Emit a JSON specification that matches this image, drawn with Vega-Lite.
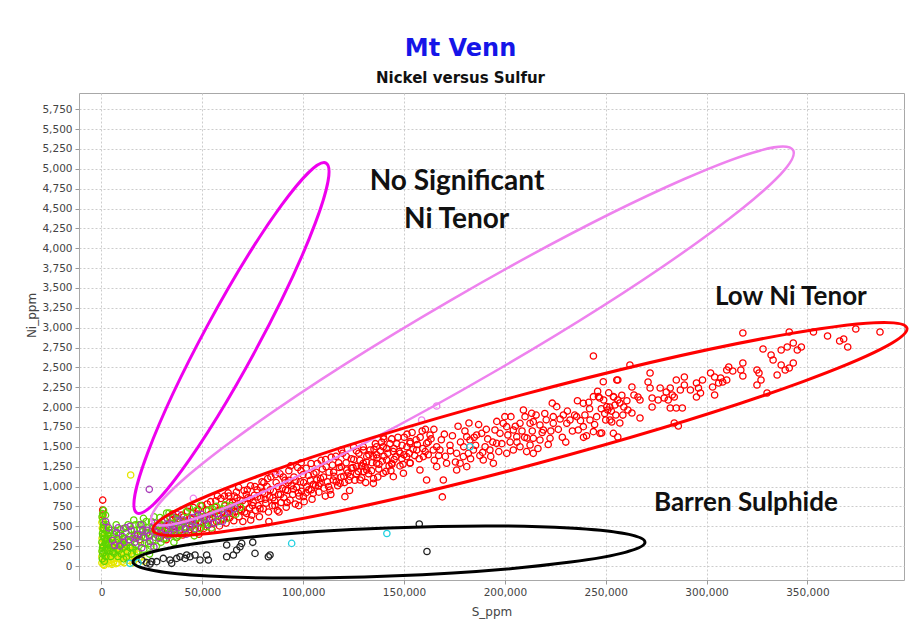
{
"$schema": "https://vega.github.io/schema/vega-lite/v6.json",
"width": 825, "height": 487,
"autosize": {"type": "none"},
"padding": {"left": 79, "top": 93, "right": 18, "bottom": 46},
"background": "white",
"title": {"text": "Mt Venn", "subtitle": "Nickel versus Sulfur", "anchor": "middle", "dx": -31, "offset": 7,
  "font": "DejaVu Sans", "fontSize": 24, "fontWeight": "bold", "color": "#1515e8",
  "subtitleFont": "DejaVu Sans", "subtitleFontSize": 15, "subtitleFontWeight": "bold", "subtitleColor": "#111111", "subtitlePadding": 10},
"datasets": {
"zones": [
 {"zone": "ns_steep", "S": 64450, "Ni": 2870},
 {"zone": "ns_wide", "S": 183940, "Ni": 2895},
 {"zone": "low", "S": 212440, "Ni": 1724},
 {"zone": "barren", "S": 142540, "Ni": 176}
],
"notes": [
 {"zone": "ns", "label": "No Significant", "S": 176250, "Ni": 4733},
 {"zone": "ns", "label": "Ni Tenor", "S": 176100, "Ni": 4255},
 {"zone": "low", "label": "Low Ni Tenor", "S": 341800, "Ni": 3285},
 {"zone": "barren", "label": "Barren Sulphide", "S": 319500, "Ni": 692}
],
"pts": [
{"S":27400,"Ni":430,"g":"red"},{"S":28900,"Ni":360,"g":"red"},{"S":29800,"Ni":505,"g":"red"},{"S":30600,"Ni":415,"g":"red"},{"S":31200,"Ni":575,"g":"red"},{"S":32100,"Ni":330,"g":"red"},{"S":32700,"Ni":470,"g":"red"},{"S":33800,"Ni":540,"g":"red"},{"S":34500,"Ni":395,"g":"red"},{"S":35300,"Ni":654,"g":"red"},{"S":35900,"Ni":455,"g":"red"},{"S":36800,"Ni":610,"g":"red"},{"S":37400,"Ni":360,"g":"red"},{"S":38100,"Ni":520,"g":"red"},{"S":38900,"Ni":445,"g":"red"},{"S":39700,"Ni":640,"g":"red"},{"S":40300,"Ni":390,"g":"red"},{"S":41200,"Ni":560,"g":"red"},{"S":41900,"Ni":470,"g":"red"},{"S":42600,"Ni":690,"g":"red"},{"S":43300,"Ni":420,"g":"red"},{"S":44100,"Ni":600,"g":"red"},{"S":44800,"Ni":500,"g":"red"},{"S":45600,"Ni":735,"g":"red"},{"S":46200,"Ni":455,"g":"red"},{"S":46900,"Ni":580,"g":"red"},{"S":47700,"Ni":655,"g":"red"},{"S":48300,"Ni":400,"g":"red"},{"S":49100,"Ni":545,"g":"red"},{"S":49800,"Ni":760,"g":"red"},{"S":50600,"Ni":470,"g":"red"},{"S":51300,"Ni":625,"g":"red"},{"S":52000,"Ni":700,"g":"red"},{"S":52700,"Ni":520,"g":"red"},{"S":53500,"Ni":590,"g":"red"},{"S":54100,"Ni":810,"g":"red"},{"S":54800,"Ni":455,"g":"red"},{"S":55500,"Ni":670,"g":"red"},{"S":56300,"Ni":740,"g":"red"},{"S":57000,"Ni":560,"g":"red"},{"S":57800,"Ni":630,"g":"red"},{"S":58500,"Ni":505,"g":"red"},{"S":59200,"Ni":850,"g":"red"},{"S":59900,"Ni":690,"g":"red"},{"S":60500,"Ni":590,"g":"red"},
{"S":61200,"Ni":760,"g":"red"},{"S":61800,"Ni":540,"g":"red"},{"S":62500,"Ni":660,"g":"red"},{"S":63100,"Ni":880,"g":"red"},{"S":63700,"Ni":610,"g":"red"},{"S":64400,"Ni":720,"g":"red"},{"S":65000,"Ni":800,"g":"red"},{"S":65600,"Ni":570,"g":"red"},{"S":66300,"Ni":690,"g":"red"},{"S":66900,"Ni":930,"g":"red"},{"S":67500,"Ni":745,"g":"red"},{"S":68200,"Ni":620,"g":"red"},{"S":68800,"Ni":830,"g":"red"},{"S":69400,"Ni":705,"g":"red"},{"S":70100,"Ni":560,"g":"red"},{"S":70700,"Ni":950,"g":"red"},{"S":71300,"Ni":780,"g":"red"},{"S":72000,"Ni":660,"g":"red"},{"S":72600,"Ni":860,"g":"red"},{"S":73300,"Ni":730,"g":"red"},{"S":73900,"Ni":1010,"g":"red"},{"S":74500,"Ni":640,"g":"red"},{"S":75200,"Ni":800,"g":"red"},{"S":75800,"Ni":890,"g":"red"},{"S":76400,"Ni":700,"g":"red"},{"S":77100,"Ni":960,"g":"red"},{"S":77700,"Ni":760,"g":"red"},{"S":78300,"Ni":620,"g":"red"},{"S":79000,"Ni":850,"g":"red"},{"S":79600,"Ni":1060,"g":"red"},{"S":80200,"Ni":720,"g":"red"},{"S":80900,"Ni":910,"g":"red"},{"S":81500,"Ni":790,"g":"red"},{"S":82100,"Ni":1000,"g":"red"},{"S":82800,"Ni":680,"g":"red"},{"S":83400,"Ni":870,"g":"red"},{"S":84000,"Ni":1120,"g":"red"},{"S":84700,"Ni":760,"g":"red"},{"S":85300,"Ni":940,"g":"red"},{"S":85900,"Ni":820,"g":"red"},{"S":86600,"Ni":1050,"g":"red"},{"S":87200,"Ni":700,"g":"red"},{"S":87800,"Ni":900,"g":"red"},{"S":88500,"Ni":1160,"g":"red"},{"S":89100,"Ni":800,"g":"red"},{"S":89700,"Ni":980,"g":"red"},{"S":90400,"Ni":860,"g":"red"},{"S":91000,"Ni":1080,"g":"red"},{"S":91600,"Ni":740,"g":"red"},{"S":92300,"Ni":950,"g":"red"},{"S":92900,"Ni":1200,"g":"red"},{"S":93500,"Ni":830,"g":"red"},{"S":94200,"Ni":1010,"g":"red"},{"S":94800,"Ni":900,"g":"red"},{"S":95400,"Ni":1120,"g":"red"},{"S":96100,"Ni":780,"g":"red"},{"S":96700,"Ni":990,"g":"red"},{"S":97300,"Ni":1240,"g":"red"},{"S":98000,"Ni":880,"g":"red"},{"S":98600,"Ni":1060,"g":"red"},{"S":99200,"Ni":940,"g":"red"},{"S":99900,"Ni":1150,"g":"red"},{"S":100500,"Ni":810,"g":"red"},{"S":65900,"Ni":880,"g":"red"},{"S":71800,"Ni":900,"g":"red"},{"S":78800,"Ni":990,"g":"red"},{"S":83000,"Ni":560,"g":"red"},{"S":88000,"Ni":680,"g":"red"},{"S":93000,"Ni":1080,"g":"red"},{"S":97800,"Ni":760,"g":"red"},
{"S":101500,"Ni":1230,"g":"red"},{"S":102800,"Ni":960,"g":"red"},{"S":103600,"Ni":1080,"g":"red"},{"S":104400,"Ni":840,"g":"red"},{"S":105300,"Ni":1160,"g":"red"},{"S":106100,"Ni":1010,"g":"red"},{"S":107000,"Ni":1290,"g":"red"},{"S":107800,"Ni":930,"g":"red"},{"S":108600,"Ni":1100,"g":"red"},{"S":109500,"Ni":1220,"g":"red"},{"S":110300,"Ni":980,"g":"red"},{"S":111100,"Ni":1340,"g":"red"},{"S":112000,"Ni":1060,"g":"red"},{"S":112800,"Ni":1180,"g":"red"},{"S":113700,"Ni":900,"g":"red"},{"S":114500,"Ni":1270,"g":"red"},{"S":115400,"Ni":1130,"g":"red"},{"S":116200,"Ni":1380,"g":"red"},{"S":117100,"Ni":1010,"g":"red"},{"S":117900,"Ni":1240,"g":"red"},{"S":118800,"Ni":1120,"g":"red"},{"S":119600,"Ni":1420,"g":"red"},{"S":120500,"Ni":1050,"g":"red"},{"S":121300,"Ni":1300,"g":"red"},{"S":122200,"Ni":1170,"g":"red"},{"S":123000,"Ni":950,"g":"red"},{"S":123900,"Ni":1350,"g":"red"},{"S":124700,"Ni":1240,"g":"red"},{"S":125600,"Ni":1080,"g":"red"},{"S":126400,"Ni":1450,"g":"red"},{"S":127300,"Ni":1190,"g":"red"},{"S":128100,"Ni":1330,"g":"red"},{"S":129000,"Ni":1110,"g":"red"},{"S":129800,"Ni":1500,"g":"red"},{"S":130700,"Ni":1250,"g":"red"},{"S":131500,"Ni":1380,"g":"red"},{"S":132400,"Ni":1160,"g":"red"},{"S":133200,"Ni":1460,"g":"red"},{"S":134100,"Ni":1300,"g":"red"},{"S":134900,"Ni":1100,"g":"red"},{"S":135800,"Ni":1540,"g":"red"},{"S":136600,"Ni":1360,"g":"red"},{"S":137500,"Ni":1220,"g":"red"},{"S":138300,"Ni":1450,"g":"red"},{"S":139200,"Ni":1320,"g":"red"},{"S":140000,"Ni":1600,"g":"red"},{"S":141000,"Ni":1190,"g":"red"},{"S":142000,"Ni":1420,"g":"red"},{"S":143000,"Ni":1540,"g":"red"},{"S":144000,"Ni":1280,"g":"red"},{"S":145000,"Ni":1480,"g":"red"},{"S":146000,"Ni":1380,"g":"red"},{"S":147000,"Ni":1620,"g":"red"},{"S":148000,"Ni":1260,"g":"red"},{"S":149000,"Ni":1520,"g":"red"},{"S":150000,"Ni":1400,"g":"red"},{"S":151500,"Ni":1660,"g":"red"},{"S":153000,"Ni":1300,"g":"red"},{"S":154500,"Ni":1470,"g":"red"},{"S":156000,"Ni":1590,"g":"red"},{"S":157500,"Ni":1350,"g":"red"},{"S":159000,"Ni":1700,"g":"red"},{"S":160500,"Ni":1440,"g":"red"},{"S":162000,"Ni":1560,"g":"red"},
{"S":238900,"Ni":2048,"g":"red"},{"S":239700,"Ni":1901,"g":"red"},{"S":235600,"Ni":1880,"g":"red"},{"S":236400,"Ni":1712,"g":"red"},{"S":243900,"Ni":1691,"g":"red"},{"S":247200,"Ni":1670,"g":"red"},{"S":242200,"Ni":1838,"g":"red"},{"S":232300,"Ni":1838,"g":"red"},{"S":229000,"Ni":1901,"g":"red"},{"S":225700,"Ni":2006,"g":"red"},{"S":224000,"Ni":1796,"g":"red"},{"S":222400,"Ni":1607,"g":"red"},{"S":219100,"Ni":1712,"g":"red"},{"S":217400,"Ni":1775,"g":"red"},{"S":214100,"Ni":1817,"g":"red"},{"S":213300,"Ni":1922,"g":"red"},{"S":209200,"Ni":1964,"g":"red"},{"S":210000,"Ni":1880,"g":"red"},{"S":214100,"Ni":1607,"g":"red"},{"S":217400,"Ni":1586,"g":"red"},{"S":212500,"Ni":1523,"g":"red"},{"S":214100,"Ni":1418,"g":"red"},{"S":210800,"Ni":1440,"g":"red"},{"S":205900,"Ni":1628,"g":"red"},{"S":204200,"Ni":1712,"g":"red"},{"S":200900,"Ni":1754,"g":"red"},{"S":197600,"Ni":1670,"g":"red"},{"S":195900,"Ni":1544,"g":"red"},{"S":192600,"Ni":1460,"g":"red"},{"S":190200,"Ni":1502,"g":"red"},{"S":188500,"Ni":1670,"g":"red"},{"S":186000,"Ni":1649,"g":"red"},{"S":182700,"Ni":1586,"g":"red"},{"S":181100,"Ni":1628,"g":"red"},{"S":184400,"Ni":1460,"g":"red"},{"S":181900,"Ni":1418,"g":"red"},{"S":179400,"Ni":1377,"g":"red"},{"S":176100,"Ni":1418,"g":"red"},{"S":177800,"Ni":1293,"g":"red"},{"S":171100,"Ni":1293,"g":"red"},{"S":167800,"Ni":1460,"g":"red"},{"S":166200,"Ni":1502,"g":"red"},{"S":164500,"Ni":1460,"g":"red"},{"S":162900,"Ni":1649,"g":"red"},{"S":161200,"Ni":1544,"g":"red"},{"S":159600,"Ni":1377,"g":"red"},{"S":157900,"Ni":1209,"g":"red"},{"S":156300,"Ni":1460,"g":"red"},{"S":153000,"Ni":1544,"g":"red"},{"S":151300,"Ni":1377,"g":"red"},{"S":148000,"Ni":1418,"g":"red"},{"S":144700,"Ni":1440,"g":"red"},{"S":143900,"Ni":1293,"g":"red"},{"S":141400,"Ni":1335,"g":"red"},{"S":139700,"Ni":1502,"g":"red"},{"S":136400,"Ni":1293,"g":"red"},{"S":134800,"Ni":1377,"g":"red"},{"S":131500,"Ni":1209,"g":"red"},{"S":129800,"Ni":1293,"g":"red"},{"S":128200,"Ni":1083,"g":"red"},{"S":126500,"Ni":1251,"g":"red"},{"S":123200,"Ni":1125,"g":"red"},{"S":121600,"Ni":1209,"g":"red"},{"S":118300,"Ni":1041,"g":"red"},{"S":114900,"Ni":1083,"g":"red"},{"S":113300,"Ni":957,"g":"red"},{"S":108300,"Ni":1041,"g":"red"},{"S":106700,"Ni":1083,"g":"red"},{"S":105000,"Ni":915,"g":"red"},{"S":101700,"Ni":999,"g":"red"},{"S":100100,"Ni":873,"g":"red"},{"S":120700,"Ni":873,"g":"red"},{"S":134800,"Ni":1041,"g":"red"},{"S":139700,"Ni":1167,"g":"red"},{"S":144700,"Ni":1125,"g":"red"},{"S":149700,"Ni":1167,"g":"red"},{"S":153000,"Ni":1293,"g":"red"},{"S":161200,"Ni":1083,"g":"red"},{"S":166200,"Ni":1251,"g":"red"},{"S":169500,"Ni":1083,"g":"red"},{"S":176100,"Ni":1209,"g":"red"},{"S":181100,"Ni":1251,"g":"red"},{"S":189300,"Ni":1335,"g":"red"},{"S":194300,"Ni":1293,"g":"red"},{"S":200900,"Ni":1418,"g":"red"},{"S":207500,"Ni":1502,"g":"red"},{"S":139700,"Ni":1628,"g":"red"},{"S":136400,"Ni":1502,"g":"red"},{"S":129800,"Ni":1460,"g":"red"},{"S":153000,"Ni":1565,"g":"red"},{"S":195100,"Ni":1712,"g":"red"},{"S":204200,"Ni":1460,"g":"red"},{"S":199200,"Ni":1796,"g":"red"},{"S":207500,"Ni":1796,"g":"red"},{"S":212500,"Ni":1796,"g":"red"},{"S":224000,"Ni":1880,"g":"red"},{"S":230700,"Ni":1796,"g":"red"},{"S":238900,"Ni":1754,"g":"red"},{"S":245500,"Ni":1880,"g":"red"},{"S":252100,"Ni":1838,"g":"red"},{"S":253800,"Ni":1670,"g":"red"},{"S":243900,"Ni":2644,"g":"red"},{"S":248800,"Ni":2320,"g":"red"},{"S":255500,"Ni":2342,"g":"red"},{"S":246400,"Ni":2132,"g":"red"},{"S":253800,"Ni":2132,"g":"red"},{"S":254600,"Ni":2027,"g":"red"},{"S":250500,"Ni":2006,"g":"red"},{"S":243900,"Ni":2132,"g":"red"},{"S":169000,"Ni":870,"g":"red"},
{"S":165000,"Ni":1330,"g":"red"},{"S":168500,"Ni":1590,"g":"red"},{"S":170500,"Ni":1380,"g":"red"},{"S":172800,"Ni":1520,"g":"red"},{"S":174000,"Ni":1640,"g":"red"},{"S":175500,"Ni":1310,"g":"red"},{"S":178000,"Ni":1560,"g":"red"},{"S":180200,"Ni":1700,"g":"red"},{"S":183000,"Ni":1350,"g":"red"},{"S":185500,"Ni":1520,"g":"red"},{"S":187000,"Ni":1780,"g":"red"},{"S":189000,"Ni":1430,"g":"red"},{"S":191500,"Ni":1600,"g":"red"},{"S":193000,"Ni":1380,"g":"red"},{"S":196000,"Ni":1820,"g":"red"},{"S":198500,"Ni":1540,"g":"red"},{"S":201500,"Ni":1650,"g":"red"},{"S":203000,"Ni":1880,"g":"red"},{"S":206000,"Ni":1560,"g":"red"},{"S":208500,"Ni":1700,"g":"red"},{"S":211000,"Ni":1610,"g":"red"},{"S":215500,"Ni":1900,"g":"red"},{"S":218500,"Ni":1680,"g":"red"},{"S":220500,"Ni":1840,"g":"red"},{"S":221500,"Ni":1530,"g":"red"},{"S":223500,"Ni":2050,"g":"red"},{"S":226500,"Ni":1720,"g":"red"},{"S":228500,"Ni":1620,"g":"red"},{"S":231000,"Ni":1950,"g":"red"},{"S":233500,"Ni":1700,"g":"red"},{"S":236000,"Ni":2080,"g":"red"},{"S":237500,"Ni":1830,"g":"red"},{"S":240500,"Ni":1640,"g":"red"},{"S":242000,"Ni":1980,"g":"red"},{"S":244500,"Ni":1780,"g":"red"},{"S":246000,"Ni":2200,"g":"red"},{"S":249500,"Ni":1920,"g":"red"},{"S":251500,"Ni":2180,"g":"red"},{"S":258500,"Ni":1900,"g":"red"},{"S":260500,"Ni":2080,"g":"red"},
{"S":30200,"Ni":455,"g":"red"},{"S":31800,"Ni":395,"g":"red"},{"S":33300,"Ni":505,"g":"red"},{"S":34900,"Ni":575,"g":"red"},{"S":36300,"Ni":420,"g":"red"},{"S":37900,"Ni":595,"g":"red"},{"S":39300,"Ni":505,"g":"red"},{"S":40800,"Ni":620,"g":"red"},{"S":42200,"Ni":545,"g":"red"},{"S":43800,"Ni":460,"g":"red"},{"S":45200,"Ni":665,"g":"red"},{"S":46600,"Ni":525,"g":"red"},{"S":48000,"Ni":710,"g":"red"},{"S":49400,"Ni":480,"g":"red"},{"S":50900,"Ni":580,"g":"red"},{"S":52400,"Ni":780,"g":"red"},{"S":53900,"Ni":650,"g":"red"},{"S":55200,"Ni":540,"g":"red"},{"S":56700,"Ni":820,"g":"red"},{"S":58100,"Ni":700,"g":"red"},{"S":59600,"Ni":600,"g":"red"},{"S":61000,"Ni":880,"g":"red"},{"S":62300,"Ni":720,"g":"red"},{"S":63500,"Ni":800,"g":"red"},{"S":64800,"Ni":660,"g":"red"},{"S":66100,"Ni":760,"g":"red"},{"S":67200,"Ni":860,"g":"red"},{"S":68600,"Ni":710,"g":"red"},{"S":69900,"Ni":820,"g":"red"},{"S":71000,"Ni":680,"g":"red"},{"S":72300,"Ni":960,"g":"red"},{"S":73600,"Ni":850,"g":"red"},{"S":74900,"Ni":760,"g":"red"},{"S":76100,"Ni":1000,"g":"red"},{"S":77400,"Ni":870,"g":"red"},{"S":78600,"Ni":720,"g":"red"},{"S":79900,"Ni":930,"g":"red"},{"S":81200,"Ni":840,"g":"red"},{"S":82400,"Ni":1100,"g":"red"},{"S":83700,"Ni":960,"g":"red"},{"S":85000,"Ni":860,"g":"red"},{"S":86300,"Ni":1150,"g":"red"},{"S":87500,"Ni":1000,"g":"red"},{"S":88800,"Ni":900,"g":"red"},{"S":90100,"Ni":1120,"g":"red"},{"S":91300,"Ni":960,"g":"red"},{"S":92600,"Ni":1050,"g":"red"},{"S":93800,"Ni":1260,"g":"red"},{"S":95100,"Ni":970,"g":"red"},{"S":96400,"Ni":1080,"g":"red"},{"S":97600,"Ni":920,"g":"red"},{"S":98900,"Ni":1200,"g":"red"},{"S":100200,"Ni":1050,"g":"red"},{"S":101400,"Ni":920,"g":"red"},{"S":102600,"Ni":1140,"g":"red"},{"S":103900,"Ni":1290,"g":"red"},{"S":105100,"Ni":1030,"g":"red"},{"S":106400,"Ni":1180,"g":"red"},{"S":107600,"Ni":1010,"g":"red"},{"S":108900,"Ni":1330,"g":"red"},{"S":110100,"Ni":1120,"g":"red"},{"S":111400,"Ni":1250,"g":"red"},{"S":112600,"Ni":1000,"g":"red"},{"S":113900,"Ni":1370,"g":"red"},{"S":115100,"Ni":1180,"g":"red"},{"S":116400,"Ni":1060,"g":"red"},{"S":117600,"Ni":1300,"g":"red"},{"S":118900,"Ni":1250,"g":"red"},{"S":120100,"Ni":1130,"g":"red"},{"S":121400,"Ni":1380,"g":"red"},{"S":122600,"Ni":1080,"g":"red"},{"S":123900,"Ni":1230,"g":"red"},{"S":125100,"Ni":1340,"g":"red"},{"S":126400,"Ni":1160,"g":"red"},{"S":127600,"Ni":1420,"g":"red"},{"S":128900,"Ni":1260,"g":"red"},{"S":130100,"Ni":1190,"g":"red"},{"S":131400,"Ni":1310,"g":"red"},{"S":132600,"Ni":1400,"g":"red"},{"S":133900,"Ni":1200,"g":"red"},{"S":135100,"Ni":1470,"g":"red"},{"S":136400,"Ni":1400,"g":"red"},{"S":137600,"Ni":1280,"g":"red"},{"S":138900,"Ni":1560,"g":"red"},{"S":140100,"Ni":1380,"g":"red"},{"S":141400,"Ni":1480,"g":"red"},{"S":142600,"Ni":1260,"g":"red"},{"S":143900,"Ni":1600,"g":"red"},{"S":145100,"Ni":1340,"g":"red"},{"S":146400,"Ni":1540,"g":"red"},{"S":147600,"Ni":1440,"g":"red"},{"S":148900,"Ni":1350,"g":"red"},{"S":150100,"Ni":1620,"g":"red"},{"S":151400,"Ni":1500,"g":"red"},{"S":152600,"Ni":1420,"g":"red"},{"S":154000,"Ni":1680,"g":"red"},{"S":155300,"Ni":1390,"g":"red"},{"S":156600,"Ni":1530,"g":"red"},{"S":158000,"Ni":1620,"g":"red"},{"S":159300,"Ni":1480,"g":"red"},{"S":160600,"Ni":1720,"g":"red"},{"S":162000,"Ni":1400,"g":"red"},{"S":163400,"Ni":1600,"g":"red"},{"S":57500,"Ni":880,"g":"red"},{"S":62800,"Ni":920,"g":"red"},{"S":68000,"Ni":990,"g":"red"},{"S":74000,"Ni":580,"g":"red"},{"S":80500,"Ni":1050,"g":"red"},{"S":86000,"Ni":760,"g":"red"},{"S":92000,"Ni":800,"g":"red"},{"S":99000,"Ni":1300,"g":"red"},{"S":104000,"Ni":960,"g":"red"},{"S":111000,"Ni":880,"g":"red"},{"S":119000,"Ni":1460,"g":"red"},{"S":125000,"Ni":1500,"g":"red"},{"S":131000,"Ni":1050,"g":"red"},{"S":137000,"Ni":1120,"g":"red"},{"S":143500,"Ni":1200,"g":"red"},{"S":149500,"Ni":1280,"g":"red"},
{"S":164800,"Ni":1720,"g":"red"},{"S":167200,"Ni":1390,"g":"red"},{"S":170000,"Ni":1660,"g":"red"},{"S":173000,"Ni":1450,"g":"red"},{"S":176800,"Ni":1760,"g":"red"},{"S":179600,"Ni":1500,"g":"red"},{"S":182200,"Ni":1800,"g":"red"},{"S":184800,"Ni":1620,"g":"red"},{"S":187600,"Ni":1390,"g":"red"},{"S":190800,"Ni":1720,"g":"red"},{"S":194000,"Ni":1560,"g":"red"},{"S":197000,"Ni":1440,"g":"red"},{"S":200000,"Ni":1880,"g":"red"},{"S":202600,"Ni":1560,"g":"red"},{"S":205200,"Ni":1760,"g":"red"},{"S":209800,"Ni":1620,"g":"red"},{"S":213600,"Ni":1700,"g":"red"},{"S":216400,"Ni":1480,"g":"red"},{"S":219800,"Ni":1920,"g":"red"},{"S":222800,"Ni":1700,"g":"red"},{"S":227400,"Ni":1850,"g":"red"},{"S":230200,"Ni":1560,"g":"red"},{"S":234600,"Ni":1900,"g":"red"},{"S":239000,"Ni":1620,"g":"red"},{"S":241600,"Ni":2060,"g":"red"},{"S":247800,"Ni":1980,"g":"red"},{"S":252800,"Ni":1950,"g":"red"},{"S":258000,"Ni":2150,"g":"red"},
{"S":318000,"Ni":2933,"g":"red"},{"S":341000,"Ni":2946,"g":"red"},{"S":353000,"Ni":2946,"g":"red"},{"S":360000,"Ni":2895,"g":"red"},{"S":366000,"Ni":2832,"g":"red"},{"S":368000,"Ni":2857,"g":"red"},{"S":370000,"Ni":2757,"g":"red"},{"S":374000,"Ni":2983,"g":"red"},{"S":386000,"Ni":2946,"g":"red"},{"S":328000,"Ni":2731,"g":"red"},{"S":332000,"Ni":2656,"g":"red"},{"S":333000,"Ni":2593,"g":"red"},{"S":337000,"Ni":2719,"g":"red"},{"S":340000,"Ni":2757,"g":"red"},{"S":343000,"Ni":2807,"g":"red"},{"S":345000,"Ni":2719,"g":"red"},{"S":347000,"Ni":2757,"g":"red"},{"S":337000,"Ni":2530,"g":"red"},{"S":339000,"Ni":2467,"g":"red"},{"S":343000,"Ni":2555,"g":"red"},{"S":341000,"Ni":2492,"g":"red"},{"S":335000,"Ni":2404,"g":"red"},{"S":330000,"Ni":2178,"g":"red"},{"S":325000,"Ni":2467,"g":"red"},{"S":326000,"Ni":2429,"g":"red"},{"S":327000,"Ni":2341,"g":"red"},{"S":325000,"Ni":2278,"g":"red"},{"S":318000,"Ni":2555,"g":"red"},{"S":318000,"Ni":2392,"g":"red"},{"S":317000,"Ni":2467,"g":"red"},{"S":311000,"Ni":2505,"g":"red"},{"S":313000,"Ni":2455,"g":"red"},{"S":310000,"Ni":2467,"g":"red"},{"S":302000,"Ni":2429,"g":"red"},{"S":304000,"Ni":2379,"g":"red"},{"S":307000,"Ni":2366,"g":"red"},{"S":308000,"Ni":2316,"g":"red"},{"S":310000,"Ni":2341,"g":"red"},{"S":306000,"Ni":2303,"g":"red"},{"S":303000,"Ni":2253,"g":"red"},{"S":304000,"Ni":2153,"g":"red"},{"S":298000,"Ni":2341,"g":"red"},{"S":295000,"Ni":2303,"g":"red"},{"S":296000,"Ni":2240,"g":"red"},{"S":295000,"Ni":2127,"g":"red"},{"S":297000,"Ni":2178,"g":"red"},{"S":292000,"Ni":2215,"g":"red"},{"S":289000,"Ni":2379,"g":"red"},{"S":289000,"Ni":2278,"g":"red"},{"S":287000,"Ni":2215,"g":"red"},{"S":285000,"Ni":2341,"g":"red"},{"S":284000,"Ni":2127,"g":"red"},{"S":282000,"Ni":2240,"g":"red"},{"S":280000,"Ni":2190,"g":"red"},{"S":283000,"Ni":2153,"g":"red"},{"S":281000,"Ni":2090,"g":"red"},{"S":279000,"Ni":2115,"g":"red"},{"S":277000,"Ni":2240,"g":"red"},{"S":276000,"Ni":2090,"g":"red"},{"S":282000,"Ni":1989,"g":"red"},{"S":285000,"Ni":1989,"g":"red"},{"S":288000,"Ni":1989,"g":"red"},{"S":284000,"Ni":1800,"g":"red"},{"S":286000,"Ni":1762,"g":"red"},{"S":272000,"Ni":2429,"g":"red"},{"S":271000,"Ni":2316,"g":"red"},{"S":272000,"Ni":2240,"g":"red"},{"S":273000,"Ni":2115,"g":"red"},{"S":273000,"Ni":2002,"g":"red"},{"S":267000,"Ni":2090,"g":"red"},{"S":266000,"Ni":2127,"g":"red"},{"S":264000,"Ni":2153,"g":"red"},{"S":263000,"Ni":2253,"g":"red"},{"S":262000,"Ni":2530,"g":"red"},{"S":256000,"Ni":2341,"g":"red"},{"S":254000,"Ni":2127,"g":"red"},{"S":256000,"Ni":2090,"g":"red"},{"S":257000,"Ni":2052,"g":"red"},{"S":259000,"Ni":2002,"g":"red"},{"S":261000,"Ni":1964,"g":"red"},{"S":263000,"Ni":1926,"g":"red"},{"S":267000,"Ni":1863,"g":"red"},{"S":255000,"Ni":1901,"g":"red"},{"S":251000,"Ni":1964,"g":"red"},{"S":249000,"Ni":2090,"g":"red"},{"S":247000,"Ni":2115,"g":"red"},{"S":250000,"Ni":1838,"g":"red"},{"S":253000,"Ni":1813,"g":"red"},{"S":248000,"Ni":1674,"g":"red"},{"S":256000,"Ni":1624,"g":"red"},{"S":257000,"Ni":1800,"g":"red"},{"S":252000,"Ni":2002,"g":"red"},
{"S":600,"Ni":830,"g":"red"},{"S":600,"Ni":705,"g":"red"},{"S":700,"Ni":642,"g":"red"},{"S":16500,"Ni":390,"g":"red"},{"S":19000,"Ni":330,"g":"red"},{"S":22500,"Ni":420,"g":"red"},
{"S":200,"Ni":40,"g":"yellow"},{"S":600,"Ni":90,"g":"yellow"},{"S":1000,"Ni":20,"g":"yellow"},{"S":1500,"Ni":130,"g":"yellow"},{"S":400,"Ni":180,"g":"yellow"},{"S":2000,"Ni":60,"g":"yellow"},{"S":2500,"Ni":210,"g":"yellow"},{"S":800,"Ni":250,"g":"yellow"},{"S":3000,"Ni":110,"g":"yellow"},{"S":3500,"Ni":30,"g":"yellow"},{"S":4000,"Ni":170,"g":"yellow"},{"S":4500,"Ni":80,"g":"yellow"},{"S":5000,"Ni":230,"g":"yellow"},{"S":5500,"Ni":140,"g":"yellow"},{"S":6000,"Ni":50,"g":"yellow"},{"S":6500,"Ni":190,"g":"yellow"},{"S":7000,"Ni":100,"g":"yellow"},{"S":7500,"Ni":260,"g":"yellow"},{"S":8000,"Ni":40,"g":"yellow"},{"S":8500,"Ni":150,"g":"yellow"},{"S":9000,"Ni":90,"g":"yellow"},{"S":9500,"Ni":220,"g":"yellow"},{"S":10000,"Ni":130,"g":"yellow"},{"S":10500,"Ni":60,"g":"yellow"},{"S":11000,"Ni":180,"g":"yellow"},{"S":12000,"Ni":100,"g":"yellow"},{"S":13000,"Ni":160,"g":"yellow"},{"S":14000,"Ni":70,"g":"yellow"},{"S":15000,"Ni":120,"g":"yellow"},{"S":16000,"Ni":200,"g":"yellow"},{"S":17000,"Ni":90,"g":"yellow"},{"S":18000,"Ni":150,"g":"yellow"},{"S":300,"Ni":350,"g":"yellow"},{"S":700,"Ni":430,"g":"yellow"},{"S":1200,"Ni":520,"g":"yellow"},{"S":500,"Ni":600,"g":"yellow"},{"S":1800,"Ni":300,"g":"yellow"},{"S":2300,"Ni":380,"g":"yellow"},{"S":2800,"Ni":260,"g":"yellow"},{"S":3300,"Ni":330,"g":"yellow"},{"S":14470,"Ni":1146,"g":"yellow"},{"S":11500,"Ni":280,"g":"yellow"},{"S":9800,"Ni":310,"g":"yellow"},{"S":7800,"Ni":330,"g":"yellow"},{"S":5200,"Ni":20,"g":"yellow"},{"S":1300,"Ni":10,"g":"yellow"},{"S":6200,"Ni":300,"g":"yellow"},{"S":19500,"Ni":110,"g":"yellow"},{"S":21000,"Ni":60,"g":"yellow"},{"S":13500,"Ni":240,"g":"yellow"},
{"S":200,"Ni":120,"g":"yellow"},{"S":900,"Ni":60,"g":"yellow"},{"S":1700,"Ni":90,"g":"yellow"},{"S":2600,"Ni":150,"g":"yellow"},{"S":3200,"Ni":60,"g":"yellow"},{"S":3800,"Ni":230,"g":"yellow"},{"S":4300,"Ni":130,"g":"yellow"},{"S":4900,"Ni":40,"g":"yellow"},{"S":5700,"Ni":90,"g":"yellow"},{"S":6400,"Ni":240,"g":"yellow"},{"S":7200,"Ni":30,"g":"yellow"},{"S":8300,"Ni":200,"g":"yellow"},{"S":8900,"Ni":120,"g":"yellow"},{"S":10200,"Ni":180,"g":"yellow"},{"S":11200,"Ni":40,"g":"yellow"},{"S":12300,"Ni":200,"g":"yellow"},{"S":13300,"Ni":110,"g":"yellow"},{"S":14600,"Ni":190,"g":"yellow"},{"S":15600,"Ni":40,"g":"yellow"},{"S":16600,"Ni":140,"g":"yellow"},{"S":400,"Ni":480,"g":"yellow"},{"S":900,"Ni":350,"g":"yellow"},{"S":1500,"Ni":460,"g":"yellow"},{"S":200,"Ni":550,"g":"yellow"},{"S":600,"Ni":280,"g":"yellow"},{"S":2000,"Ni":500,"g":"yellow"},
{"S":300,"Ni":620,"g":"green"},{"S":800,"Ni":560,"g":"green"},{"S":1200,"Ni":480,"g":"green"},{"S":500,"Ni":410,"g":"green"},{"S":1500,"Ni":350,"g":"green"},{"S":200,"Ni":300,"g":"green"},{"S":900,"Ni":250,"g":"green"},{"S":1800,"Ni":200,"g":"green"},{"S":600,"Ni":150,"g":"green"},{"S":2200,"Ni":120,"g":"green"},{"S":400,"Ni":90,"g":"green"},{"S":1100,"Ni":520,"g":"green"},{"S":2500,"Ni":440,"g":"green"},{"S":700,"Ni":380,"g":"green"},{"S":1900,"Ni":290,"g":"green"},{"S":300,"Ni":190,"g":"green"},{"S":1400,"Ni":60,"g":"green"},{"S":2800,"Ni":330,"g":"green"},{"S":1000,"Ni":700,"g":"green"},{"S":600,"Ni":660,"g":"green"},
{"S":3500,"Ni":280,"g":"green"},{"S":4200,"Ni":190,"g":"green"},{"S":5000,"Ni":350,"g":"green"},{"S":5600,"Ni":240,"g":"green"},{"S":6300,"Ni":160,"g":"green"},{"S":7100,"Ni":300,"g":"green"},{"S":7800,"Ni":210,"g":"green"},{"S":8500,"Ni":390,"g":"green"},{"S":9200,"Ni":260,"g":"green"},{"S":9900,"Ni":150,"g":"green"},{"S":10600,"Ni":330,"g":"green"},{"S":11300,"Ni":240,"g":"green"},{"S":12100,"Ni":420,"g":"green"},{"S":12800,"Ni":180,"g":"green"},{"S":13500,"Ni":300,"g":"green"},{"S":14200,"Ni":230,"g":"green"},{"S":3900,"Ni":420,"g":"green"},{"S":6800,"Ni":440,"g":"green"},{"S":9600,"Ni":460,"g":"green"},{"S":12400,"Ni":110,"g":"green"},{"S":4600,"Ni":120,"g":"green"},{"S":8100,"Ni":120,"g":"green"},{"S":11000,"Ni":90,"g":"green"},{"S":14800,"Ni":150,"g":"green"},
{"S":15500,"Ni":350,"g":"green"},{"S":16300,"Ni":450,"g":"green"},{"S":17100,"Ni":270,"g":"green"},{"S":17800,"Ni":380,"g":"green"},{"S":18600,"Ni":520,"g":"green"},{"S":19400,"Ni":300,"g":"green"},{"S":20200,"Ni":430,"g":"green"},{"S":21000,"Ni":210,"g":"green"},{"S":21700,"Ni":360,"g":"green"},{"S":22500,"Ni":480,"g":"green"},{"S":23300,"Ni":280,"g":"green"},{"S":24100,"Ni":400,"g":"green"},{"S":24800,"Ni":560,"g":"green"},{"S":25600,"Ni":330,"g":"green"},{"S":26400,"Ni":460,"g":"green"},{"S":27200,"Ni":250,"g":"green"},{"S":27900,"Ni":380,"g":"green"},{"S":28700,"Ni":520,"g":"green"},{"S":29500,"Ni":300,"g":"green"},{"S":30300,"Ni":440,"g":"green"},{"S":31100,"Ni":590,"g":"green"},{"S":31900,"Ni":350,"g":"green"},{"S":32700,"Ni":480,"g":"green"},{"S":33500,"Ni":667,"g":"green"},{"S":34300,"Ni":400,"g":"green"},{"S":35100,"Ni":530,"g":"green"},{"S":35900,"Ni":300,"g":"green"},{"S":36700,"Ni":470,"g":"green"},{"S":37500,"Ni":590,"g":"green"},{"S":38300,"Ni":380,"g":"green"},{"S":39100,"Ni":510,"g":"green"},{"S":39900,"Ni":430,"g":"green"},{"S":16000,"Ni":580,"g":"green"},{"S":20800,"Ni":600,"g":"green"},{"S":26000,"Ni":620,"g":"green"},{"S":32310,"Ni":667,"g":"green"},{"S":18200,"Ni":180,"g":"green"},{"S":23800,"Ni":150,"g":"green"},
{"S":41000,"Ni":490,"g":"green"},{"S":42500,"Ni":610,"g":"green"},{"S":44000,"Ni":420,"g":"green"},{"S":45500,"Ni":560,"g":"green"},{"S":47000,"Ni":700,"g":"green"},{"S":48500,"Ni":470,"g":"green"},{"S":50000,"Ni":620,"g":"green"},{"S":51500,"Ni":540,"g":"green"},{"S":53000,"Ni":700,"g":"green"},{"S":54500,"Ni":480,"g":"green"},{"S":56000,"Ni":640,"g":"green"},{"S":58000,"Ni":560,"g":"green"},{"S":60000,"Ni":720,"g":"green"},{"S":62000,"Ni":600,"g":"green"},{"S":64000,"Ni":760,"g":"green"},{"S":66500,"Ni":650,"g":"green"},{"S":69000,"Ni":740,"g":"green"},{"S":43500,"Ni":730,"g":"green"},{"S":49000,"Ni":760,"g":"green"},{"S":57000,"Ni":750,"g":"green"},{"S":52000,"Ni":495,"g":"green"},{"S":46000,"Ni":380,"g":"green"},{"S":61200,"Ni":770,"g":"green"},{"S":55000,"Ni":720,"g":"green"},
{"S":2000,"Ni":640,"g":"green"},{"S":2600,"Ni":520,"g":"green"},{"S":3200,"Ni":380,"g":"green"},{"S":4000,"Ni":300,"g":"green"},{"S":4800,"Ni":450,"g":"green"},{"S":5400,"Ni":180,"g":"green"},{"S":6000,"Ni":400,"g":"green"},{"S":6600,"Ni":260,"g":"green"},{"S":7300,"Ni":520,"g":"green"},{"S":8200,"Ni":340,"g":"green"},{"S":8800,"Ni":200,"g":"green"},{"S":9400,"Ni":410,"g":"green"},{"S":10200,"Ni":270,"g":"green"},{"S":10900,"Ni":470,"g":"green"},{"S":11700,"Ni":350,"g":"green"},{"S":12500,"Ni":260,"g":"green"},{"S":13200,"Ni":520,"g":"green"},{"S":14000,"Ni":380,"g":"green"},{"S":14600,"Ni":460,"g":"green"},{"S":15200,"Ni":240,"g":"green"},{"S":16800,"Ni":520,"g":"green"},{"S":17500,"Ni":180,"g":"green"},{"S":19000,"Ni":460,"g":"green"},{"S":19800,"Ni":370,"g":"green"},{"S":20600,"Ni":520,"g":"green"},{"S":21400,"Ni":290,"g":"green"},{"S":22200,"Ni":560,"g":"green"},{"S":23000,"Ni":420,"g":"green"},{"S":24500,"Ni":250,"g":"green"},{"S":25200,"Ni":470,"g":"green"},{"S":26700,"Ni":360,"g":"green"},{"S":28000,"Ni":450,"g":"green"},{"S":29000,"Ni":610,"g":"green"},{"S":30800,"Ni":340,"g":"green"},{"S":33800,"Ni":430,"g":"green"},{"S":35500,"Ni":610,"g":"green"},{"S":37000,"Ni":360,"g":"green"},{"S":38700,"Ni":560,"g":"green"},{"S":40000,"Ni":520,"g":"green"},{"S":42000,"Ni":680,"g":"green"},{"S":44500,"Ni":500,"g":"green"},{"S":47500,"Ni":600,"g":"green"},{"S":500,"Ni":230,"g":"green"},{"S":1600,"Ni":400,"g":"green"},{"S":2300,"Ni":270,"g":"green"},{"S":800,"Ni":470,"g":"green"},{"S":1300,"Ni":170,"g":"green"},{"S":3000,"Ni":200,"g":"green"},
{"S":5500,"Ni":320,"g":"purple"},{"S":7500,"Ni":420,"g":"purple"},{"S":9000,"Ni":250,"g":"purple"},{"S":10500,"Ni":370,"g":"purple"},{"S":12000,"Ni":480,"g":"purple"},{"S":13500,"Ni":330,"g":"purple"},{"S":15000,"Ni":440,"g":"purple"},{"S":16500,"Ni":300,"g":"purple"},{"S":18000,"Ni":400,"g":"purple"},{"S":19500,"Ni":520,"g":"purple"},{"S":21000,"Ni":360,"g":"purple"},{"S":22500,"Ni":450,"g":"purple"},{"S":24000,"Ni":310,"g":"purple"},{"S":25500,"Ni":500,"g":"purple"},{"S":27000,"Ni":420,"g":"purple"},{"S":28500,"Ni":350,"g":"purple"},{"S":30000,"Ni":560,"g":"purple"},{"S":31500,"Ni":460,"g":"purple"},{"S":33000,"Ni":380,"g":"purple"},{"S":34500,"Ni":520,"g":"purple"},{"S":36000,"Ni":430,"g":"purple"},{"S":37500,"Ni":650,"g":"purple"},{"S":39000,"Ni":480,"g":"purple"},{"S":40500,"Ni":580,"g":"purple"},{"S":42000,"Ni":400,"g":"purple"},{"S":43500,"Ni":520,"g":"purple"},{"S":45000,"Ni":610,"g":"purple"},{"S":46500,"Ni":470,"g":"purple"},{"S":48000,"Ni":560,"g":"purple"},{"S":49500,"Ni":650,"g":"purple"},{"S":51000,"Ni":590,"g":"purple"},{"S":53000,"Ni":520,"g":"purple"},{"S":55000,"Ni":610,"g":"purple"},{"S":57500,"Ni":660,"g":"purple"},{"S":60000,"Ni":560,"g":"purple"},{"S":63000,"Ni":680,"g":"purple"},{"S":66000,"Ni":720,"g":"purple"},{"S":23700,"Ni":965,"g":"purple"},{"S":2000,"Ni":560,"g":"purple"},{"S":3500,"Ni":480,"g":"purple"},{"S":26000,"Ni":240,"g":"purple"},{"S":20000,"Ni":230,"g":"purple"},
{"S":6500,"Ni":260,"g":"purple"},{"S":8200,"Ni":480,"g":"purple"},{"S":11200,"Ni":300,"g":"purple"},{"S":14200,"Ni":500,"g":"purple"},{"S":17200,"Ni":350,"g":"purple"},{"S":20500,"Ni":460,"g":"purple"},{"S":23500,"Ni":380,"g":"purple"},{"S":26500,"Ni":540,"g":"purple"},{"S":29500,"Ni":410,"g":"purple"},{"S":32500,"Ni":600,"g":"purple"},{"S":35200,"Ni":470,"g":"purple"},{"S":38500,"Ni":560,"g":"purple"},{"S":41500,"Ni":470,"g":"purple"},{"S":44500,"Ni":560,"g":"purple"},{"S":47500,"Ni":640,"g":"purple"},{"S":52000,"Ni":600,"g":"purple"},{"S":56000,"Ni":540,"g":"purple"},{"S":61000,"Ni":650,"g":"purple"},
{"S":33970,"Ni":75,"g":"black"},{"S":37280,"Ni":96,"g":"black"},{"S":38930,"Ni":117,"g":"black"},{"S":41410,"Ni":96,"g":"black"},{"S":43890,"Ni":117,"g":"black"},{"S":46370,"Ni":138,"g":"black"},{"S":48850,"Ni":75,"g":"black"},{"S":52150,"Ni":138,"g":"black"},{"S":62070,"Ni":264,"g":"black"},{"S":62070,"Ni":117,"g":"black"},{"S":65380,"Ni":138,"g":"black"},{"S":67030,"Ni":201,"g":"black"},{"S":68680,"Ni":243,"g":"black"},{"S":69510,"Ni":285,"g":"black"},{"S":76120,"Ni":159,"g":"black"},{"S":83560,"Ni":138,"g":"black"},{"S":82730,"Ni":117,"g":"black"},{"S":22400,"Ni":42,"g":"black"},{"S":24050,"Ni":25,"g":"black"},{"S":19920,"Ni":75,"g":"black"},{"S":30660,"Ni":96,"g":"black"},{"S":27360,"Ni":55,"g":"black"},{"S":24880,"Ni":55,"g":"black"},{"S":34800,"Ni":34,"g":"black"},{"S":42240,"Ni":138,"g":"black"},{"S":52980,"Ni":75,"g":"black"},{"S":157560,"Ni":529,"g":"black"},{"S":161380,"Ni":183,"g":"black"},{"S":75000,"Ni":300,"g":"black"},
{"S":94300,"Ni":285,"g":"cyan"},{"S":141500,"Ni":409,"g":"cyan"},{"S":182700,"Ni":1502,"g":"cyan"},{"S":18100,"Ni":42,"g":"cyan"},{"S":14140,"Ni":34,"g":"cyan"},
{"S":45540,"Ni":852,"g":"violet"},{"S":86870,"Ni":1187,"g":"violet"},{"S":158740,"Ni":1838,"g":"violet"},{"S":166180,"Ni":2014,"g":"violet"}
]
},
"encoding": {
 "x": {"field": "S", "type": "quantitative", "title": "S_ppm",
   "scale": {"domain": [-11150, 397900], "nice": false, "zero": false},
   "axis": {"values": [0, 50000, 100000, 150000, 200000, 250000, 300000, 350000], "format": ",d", "titlePadding": 9}},
 "y": {"field": "Ni", "type": "quantitative", "title": "Ni_ppm",
   "scale": {"domain": [-176, 5954], "nice": false, "zero": false},
   "axis": {"values": [0,250,500,750,1000,1250,1500,1750,2000,2250,2500,2750,3000,3250,3500,3750,4000,4250,4500,4750,5000,5250,5500,5750], "format": ",d",
     "titleAngle": 270, "titleX": -48, "titleY": 222, "titleAlign": "center", "titleBaseline": "middle"}}
},
"layer": [
 {"data": {"name": "pts"},
  "mark": {"type": "point", "filled": false, "size": 40, "strokeWidth": 1.3, "opacity": 1},
  "encoding": {"color": {"field": "g", "type": "nominal", "legend": null,
    "scale": {"domain": ["red","green","purple","yellow","black","cyan","violet"],
              "range": ["#ff0000","#5ed400","#a83ab8","#e6e600","#222222","#22d0e0","#ee82ee"]}}}},
 {"data": {"name": "zones"}, "transform": [{"filter": "datum.zone == 'ns_steep'"}],
  "mark": {"type": "point", "filled": false, "color": "#ee00ee", "opacity": 1, "strokeWidth": 3, "size": 158221, "angle": 298.4,
    "shape": "M-1,0C-1,-0.0751,-0.5523,-0.136,0,-0.136C0.5523,-0.136,1,-0.0751,1,0C1,0.0751,0.5523,0.136,0,0.136C-0.5523,0.136,-1,0.0751,-1,0Z"}},
 {"data": {"name": "zones"}, "transform": [{"filter": "datum.zone == 'ns_wide'"}],
  "mark": {"type": "point", "filled": false, "color": "#ee82ee", "opacity": 1, "strokeWidth": 2.5, "size": 549265, "angle": 329.9,
    "shape": "M-1,0C-1,-0.0624,-0.5523,-0.113,0,-0.113C0.5523,-0.113,1,-0.0624,1,0C1,0.0624,0.5523,0.113,0,0.113C-0.5523,0.113,-1,0.0624,-1,0Z"}},
 {"data": {"name": "zones"}, "transform": [{"filter": "datum.zone == 'low'"}],
  "mark": {"type": "point", "filled": false, "color": "#ff0000", "opacity": 1, "strokeWidth": 3, "size": 609320, "angle": 345.0,
    "shape": "M-1,0C-1,-0.0497,-0.5523,-0.09,0,-0.09C0.5523,-0.09,1,-0.0497,1,0C1,0.0497,0.5523,0.09,0,0.09C-0.5523,0.09,-1,0.0497,-1,0Z"}},
 {"data": {"name": "zones"}, "transform": [{"filter": "datum.zone == 'barren'"}],
  "mark": {"type": "point", "filled": false, "color": "#000000", "opacity": 1, "strokeWidth": 3, "size": 262544, "angle": 357.8,
    "shape": "M-1,0C-1,-0.0519,-0.5523,-0.094,0,-0.094C0.5523,-0.094,1,-0.0519,1,0C1,0.0519,0.5523,0.094,0,0.094C-0.5523,0.094,-1,0.0519,-1,0Z"}},
 {"data": {"name": "notes"}, "transform": [{"filter": "datum.zone == 'ns'"}],
  "mark": {"type": "text", "font": "Lato", "fontWeight": "bold", "fontSize": 28, "color": "#111111", "align": "center", "baseline": "alphabetic"},
  "encoding": {"text": {"field": "label"}}},
 {"data": {"name": "notes"}, "transform": [{"filter": "datum.zone != 'ns'"}],
  "mark": {"type": "text", "font": "Lato", "fontWeight": "bold", "fontSize": 26, "color": "#111111", "align": "center", "baseline": "alphabetic"},
  "encoding": {"text": {"field": "label"}}}
],
"config": {
 "view": {"stroke": "#a8a8a8", "strokeWidth": 1},
 "axis": {"domain": false, "grid": true, "gridColor": "#cccccc", "gridDash": [2, 2], "gridWidth": 1,
   "ticks": true, "tickColor": "#999999", "tickSize": 4, "labelPadding": 3,
   "labelFont": "DejaVu Sans", "labelFontSize": 10.5, "labelColor": "#444444",
   "titleFont": "DejaVu Sans", "titleFontSize": 12, "titleFontWeight": "normal", "titleColor": "#444444"}
}
}
